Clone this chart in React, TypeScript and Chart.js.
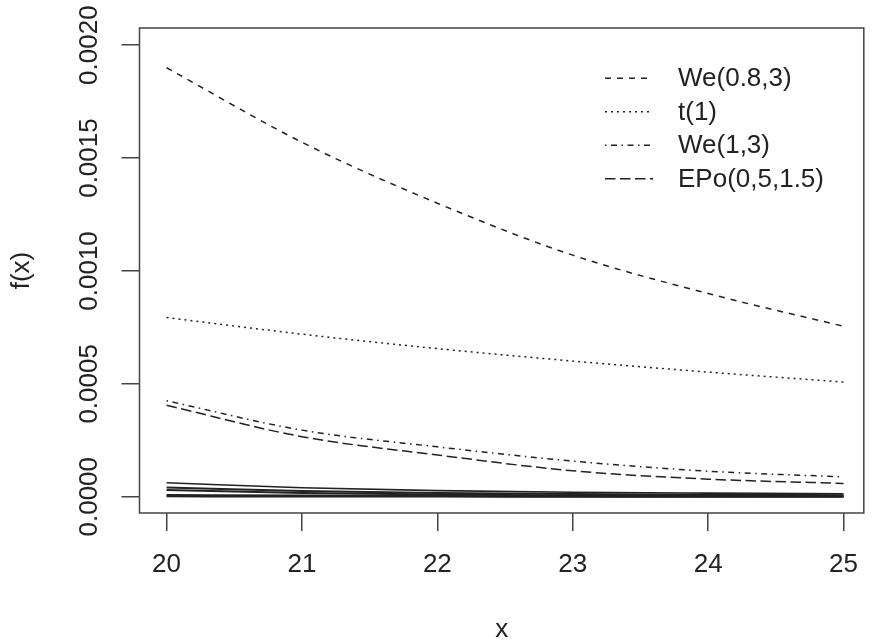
import React, { useEffect, useRef } from 'react';
import { Chart, registerables } from 'chart.js';

Chart.register(...registerables);

// ---------- data ----------
const xValues = [20, 21, 22, 23, 24, 25];
const xTickValues = [20, 21, 22, 23, 24, 25];
const yTickValues = [0, 0.0005, 0.001, 0.0015, 0.002];

const seriesLabels = ['We(0.8,3)', 't(1)', 'We(1,3)', 'EPo(0,5,1.5)'];
const we083 = [0.0019, 0.00157, 0.0013, 0.00107, 0.0009, 0.000755];
const t1 = [0.000794, 0.00072, 0.000656, 0.000601, 0.000552, 0.000508];
const we13 = [0.000425, 0.000295, 0.000221, 0.000158, 0.000113, 0.000088];
const epo = [0.000405, 0.000266, 0.000185, 0.000115, 0.000078, 0.000059];

// unlabelled solid curves near zero
const low1 = [0.000062, 0.00004, 0.000027, 0.00002, 0.000016, 0.000013];
const low2 = [0.000041, 0.000025, 0.000017, 0.000012, 0.000009, 0.000007];
const low3 = [0.00003, 0.000017, 0.00001, 0.000006, 0.000004, 0.000003];
const low4 = [0.000008, 0.000005, 0.000003, 0.000002, 0.000001, 0.000001];
const low5 = [0.000002, 0.000001, 0.000001, 0, 0, 0];

const FONT = '"Liberation Sans", Arial, Helvetica, sans-serif';
const INK = '#222';
const AXIS = '#444';

const pts = (ys: number[]) => xValues.map((x, i) => ({ x, y: ys[i] }));

const boxPlugin = {
  id: 'rBox',
  afterDatasetsDraw(chart: any) {
    const { ctx, chartArea } = chart;
    ctx.save();
    ctx.strokeStyle = AXIS;
    ctx.lineWidth = 1.5;
    ctx.strokeRect(chartArea.left, chartArea.top, chartArea.right - chartArea.left, chartArea.bottom - chartArea.top);
    ctx.restore();
  },
};

const legendPlugin = {
  id: 'rLegend',
  afterDatasetsDraw(chart: any) {
    const { ctx } = chart;
    const items = chart.data.datasets.filter((d: any) => seriesLabels.includes(d.label));
    ctx.save();
    ctx.font = `26px ${FONT}`;
    ctx.textBaseline = 'middle';
    ctx.textAlign = 'left';
    items.forEach((d: any, i: number) => {
      const y = 78.3 + i * 33.5;
      ctx.strokeStyle = d.borderColor;
      ctx.lineWidth = d.borderWidth;
      ctx.setLineDash(d.borderDash || []);
      ctx.beginPath();
      ctx.moveTo(605, y);
      ctx.lineTo(653, y);
      ctx.stroke();
      ctx.setLineDash([]);
      ctx.fillStyle = INK;
      ctx.fillText(d.label, 678, y + 1);
    });
    ctx.restore();
  },
};

export default function App() {
  const ref = useRef<HTMLCanvasElement | null>(null);

  useEffect(() => {
    if (!ref.current) return;
    const line = (label: string, ys: number[], dash: number[], width = 1.5) => ({
      label,
      data: pts(ys),
      borderColor: INK,
      backgroundColor: INK,
      borderWidth: width,
      borderDash: dash,
      pointRadius: 0,
      fill: false,
      cubicInterpolationMode: 'monotone' as const,
    });
    const chart = new Chart(ref.current, {
      type: 'line',
      data: {
        datasets: [
          line(seriesLabels[0], we083, [6, 6]),
          line(seriesLabels[1], t1, [2, 4]),
          line(seriesLabels[2], we13, [1.5, 4.5, 6, 4.5]),
          line(seriesLabels[3], epo, [10.5, 4.5]),
          line('', low1, [], 1.6),
          line('', low2, [], 2),
          line('', low3, [], 2),
          line('', low4, [], 2),
          line('', low5, [], 2),
        ],
      },
      options: {
        animation: false,
        responsive: false,
        devicePixelRatio: 1,
        layout: { padding: { left: 0, top: 28, right: 1, bottom: 0 } },
        plugins: { legend: { display: false }, tooltip: { enabled: false } },
        scales: {
          x: {
            type: 'linear',
            min: 19.8,
            max: 25.15,
            afterBuildTicks: (s: any) => {
              s.ticks = xTickValues.map((v) => ({ value: v }));
            },
            afterFit: (s: any) => {
              s.height = 131;
            },
            border: { display: false },
            grid: { drawOnChartArea: false, drawTicks: true, tickLength: 18, color: AXIS, lineWidth: 1.5 },
            ticks: {
              color: INK,
              font: { family: FONT, size: 26 },
              padding: 18,
              maxRotation: 0,
              minRotation: 0,
              autoSkip: false,
              callback: (v: any) => String(v),
            },
            title: {
              display: true,
              text: 'x',
              color: INK,
              font: { family: FONT, size: 26, lineHeight: 1 },
              padding: { top: 0, bottom: 1 },
            },
          },
          y: {
            type: 'linear',
            min: -0.000072,
            max: 0.002076,
            afterBuildTicks: (s: any) => {
              s.ticks = yTickValues.map((v) => ({ value: v }));
            },
            afterFit: (s: any) => {
              s.width = 139.5;
            },
            border: { display: false },
            grid: { drawOnChartArea: false, drawTicks: true, tickLength: 18, color: AXIS, lineWidth: 1.5 },
            ticks: {
              color: INK,
              font: { family: FONT, size: 26 },
              padding: -8.25,
              minRotation: 90,
              maxRotation: 90,
              crossAlign: 'center',
              autoSkip: false,
              callback: (v: any) => Number(v).toFixed(4),
            },
            title: {
              display: true,
              text: 'f(x)',
              color: INK,
              font: { family: FONT, size: 26, lineHeight: 1 },
              padding: { top: 9, bottom: 0 },
            },
          },
        },
      },
      plugins: [boxPlugin, legendPlugin],
    });
    return () => chart.destroy();
  }, []);

  return (
    <div style={{ position: 'absolute', left: 0, top: 0, width: 876, height: 644, overflow: 'hidden', background: '#fff' }}>
      <canvas ref={ref} width={876} height={644} style={{ width: 876, height: 644, display: 'block' }} />
    </div>
  );
}
